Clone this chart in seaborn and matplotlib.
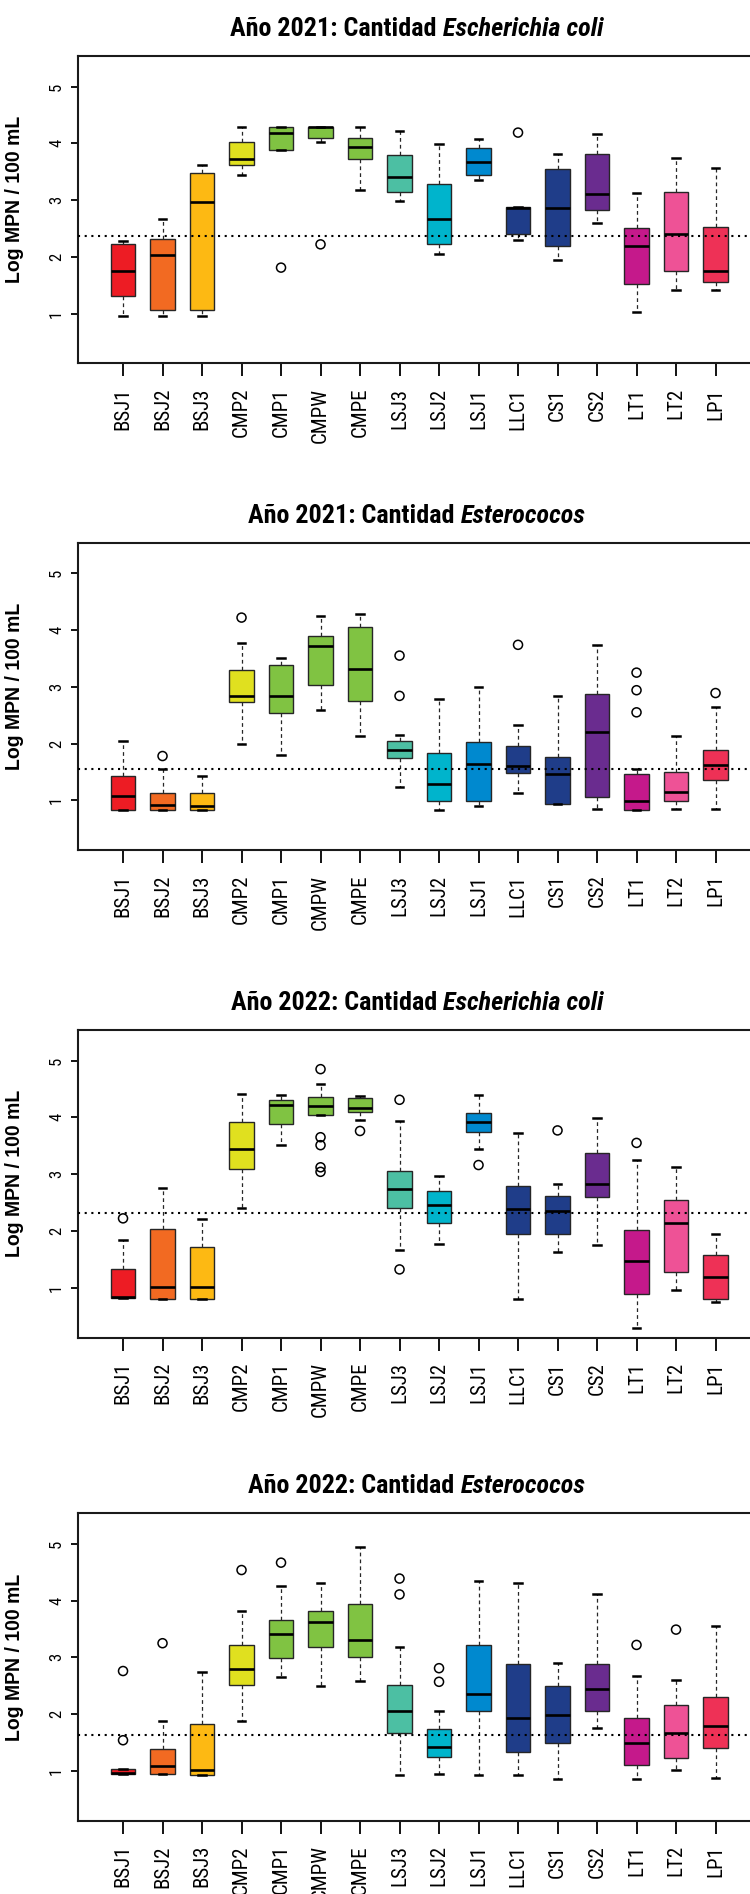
import numpy as np
import pandas as pd
import matplotlib
matplotlib.use("Agg")
import matplotlib.pyplot as plt
import seaborn as sns

# sampling stations, in plotting order
stations = ["BSJ1", "BSJ2", "BSJ3", "CMP2", "CMP1", "CMPW", "CMPE", "LSJ3",
            "LSJ2", "LSJ1", "LLC1", "CS1", "CS2", "LT1", "LT2", "LP1"]
box_colors = ["#ED1C24", "#F26A22", "#FDB913", "#E0E01F", "#80C342", "#80C342",
              "#80C342", "#4CBFA3", "#00B4CC", "#0089CF", "#1F3D89", "#1F3D89",
              "#6A2C8F", "#C5198B", "#EE5296", "#EE3156"]

# Año 2021 - Escherichia coli (whisker low, Q1, median, Q3, whisker high)
ec21_low = [0.95, 0.95, 0.95, 3.44, 3.89, 4.03, 3.18, 2.99, 2.05, 3.35, 2.30, 1.94, 2.59, 1.02, 1.41, 1.41]
ec21_q1 = [1.31, 1.07, 1.07, 3.62, 3.89, 4.09, 3.72, 3.14, 2.22, 3.44, 2.41, 2.19, 2.82, 1.52, 1.75, 1.55]
ec21_med = [1.75, 2.03, 2.96, 3.72, 4.19, 4.28, 3.94, 3.41, 2.66, 3.68, 2.86, 2.86, 3.11, 2.19, 2.41, 1.75]
ec21_q3 = [2.22, 2.32, 3.48, 4.02, 4.29, 4.29, 4.09, 3.79, 3.29, 3.92, 2.87, 3.54, 3.81, 2.50, 3.15, 2.53]
ec21_high = [2.28, 2.66, 3.62, 4.28, 4.29, 4.29, 4.28, 4.21, 3.99, 4.07, 2.87, 3.81, 4.16, 3.13, 3.74, 3.56]
ec21_out_st = ["CMP1", "CMPW", "LLC1"]
ec21_out_val = [1.81, 2.22, 4.19]

# Año 2021 - Esterococos
es21_low = [0.82, 0.82, 0.82, 2.00, 1.79, 2.59, 2.14, 1.24, 0.83, 0.90, 1.12, 0.94, 0.84, 0.83, 0.84, 0.84]
es21_q1 = [0.82, 0.82, 0.82, 2.73, 2.53, 3.04, 2.75, 1.74, 0.99, 0.99, 1.48, 0.94, 1.06, 0.83, 0.98, 1.36]
es21_med = [1.08, 0.91, 0.90, 2.84, 2.84, 3.72, 3.32, 1.89, 1.29, 1.64, 1.61, 1.46, 2.20, 0.99, 1.14, 1.62]
es21_q3 = [1.42, 1.12, 1.12, 3.29, 3.38, 3.89, 4.06, 2.04, 1.84, 2.02, 1.96, 1.76, 2.88, 1.46, 1.49, 1.88]
es21_high = [2.05, 1.55, 1.42, 3.77, 3.51, 4.25, 4.28, 2.15, 2.78, 3.00, 2.33, 2.83, 3.73, 1.55, 2.14, 2.64]
es21_out_st = ["BSJ2", "CMP2", "LSJ3", "LSJ3", "LLC1", "LT1", "LT1", "LT1", "LP1"]
es21_out_val = [1.78, 4.22, 3.55, 2.84, 3.74, 3.25, 2.94, 2.55, 2.89]

# Año 2022 - Escherichia coli
ec22_low = [0.82, 0.80, 0.80, 2.41, 3.51, 4.04, 3.95, 1.66, 1.76, 3.45, 0.79, 1.62, 1.75, 0.29, 0.96, 0.75]
ec22_q1 = [0.82, 0.80, 0.80, 3.09, 3.89, 4.04, 4.10, 2.40, 2.13, 3.74, 1.95, 1.94, 2.60, 0.89, 1.28, 0.80]
ec22_med = [0.84, 1.01, 1.01, 3.45, 4.21, 4.20, 4.16, 2.73, 2.45, 3.91, 2.39, 2.35, 2.83, 1.46, 2.13, 1.19]
ec22_q3 = [1.33, 2.04, 1.72, 3.91, 4.31, 4.36, 4.34, 3.05, 2.71, 4.07, 2.79, 2.62, 3.38, 2.02, 2.55, 1.57]
ec22_high = [1.84, 2.75, 2.21, 4.42, 4.39, 4.58, 4.38, 3.94, 2.96, 4.39, 3.72, 2.82, 3.99, 3.24, 3.12, 1.94]
ec22_out_st = ["BSJ1", "CMPW", "CMPW", "CMPW", "CMPW", "CMPW", "CMPE", "LSJ3", "LSJ3",
               "LSJ1", "CS1", "LT1"]
ec22_out_val = [2.22, 4.85, 3.65, 3.51, 3.12, 3.04, 3.76, 4.31, 1.32, 3.16, 3.77, 3.55]

# Año 2022 - Esterococos
es22_low = [0.94, 0.94, 0.93, 1.88, 2.65, 2.50, 2.59, 0.93, 0.95, 0.93, 0.93, 0.86, 1.75, 0.86, 1.02, 0.87]
es22_q1 = [0.94, 0.94, 0.93, 2.51, 2.99, 3.18, 3.01, 1.66, 1.24, 2.05, 1.34, 1.50, 2.05, 1.10, 1.22, 1.40]
es22_med = [0.96, 1.08, 1.02, 2.79, 3.42, 3.62, 3.30, 2.05, 1.42, 2.35, 1.93, 1.98, 2.45, 1.50, 1.66, 1.79]
es22_q3 = [1.04, 1.38, 1.82, 3.21, 3.66, 3.82, 3.94, 2.51, 1.73, 3.21, 2.88, 2.50, 2.89, 1.93, 2.16, 2.31]
es22_high = [1.04, 1.88, 2.74, 3.82, 4.25, 4.31, 4.95, 3.19, 2.06, 4.35, 4.32, 2.91, 4.12, 2.67, 2.61, 3.55]
es22_out_st = ["BSJ1", "BSJ1", "BSJ2", "CMP2", "CMP1", "LSJ3", "LSJ3", "LSJ2", "LSJ2", "LT1", "LT2"]
es22_out_val = [2.76, 1.54, 3.25, 4.54, 4.67, 4.39, 4.11, 2.81, 2.57, 3.22, 3.49]

# dotted reference line of each panel
ref_lines = [2.36, 1.56, 2.32, 1.64]
panel_titles = [("Año 2021: Cantidad", "Escherichia coli"),
                ("Año 2021: Cantidad", "Esterococos"),
                ("Año 2022: Cantidad", "Escherichia coli"),
                ("Año 2022: Cantidad", "Esterococos")]

COND = ["Roboto Condensed", "DejaVu Sans"]
BOLD_LAB = ["Liberation Sans", "DejaVu Sans"]

W, H = 750, 1894
fig = plt.figure(figsize=(W / 100, H / 100), dpi=100)
fig.patch.set_facecolor("white")

ax_left = 78
unit_px = 39.5
xlo, xhi = -1.14, 16.14
ax_w = (xhi - xlo) * unit_px
ax_h = 307.5
panel_tops = [56, 542.7, 1030, 1513.3]


def draw_panel(ax, low, q1, med, q3, high, out_st, out_val, ref):
    # five values per station -> quartiles exact, whiskers at min/max
    box_df = pd.DataFrame({
        "station": np.repeat(stations, 5),
        "value": np.column_stack([low, q1, med, q3, high]).ravel(),
    })
    sns.boxplot(data=box_df, x="station", y="value", hue="station",
                order=stations, hue_order=stations, palette=box_colors,
                saturation=1, width=0.62, whis=(0, 100), showfliers=False,
                linecolor="#262626", linewidth=1.0, legend=False, ax=ax,
                medianprops={"linewidth": 1.9, "color": "black"},
                whiskerprops={"linestyle": (0, (3, 2.5)), "linewidth": 0.9},
                capprops={"linewidth": 1.8, "color": "black"},
                capwidths=0.19)

    out_df = pd.DataFrame({"station": out_st, "value": out_val})
    sns.stripplot(data=out_df, x="station", y="value", order=stations,
                  jitter=False, color="black", size=6.5, linewidth=1.1,
                  edgecolor="black", ax=ax, zorder=4)
    for coll in ax.collections:
        coll.set_facecolor("none")
        coll.set_edgecolor("black")

    ax.axhline(ref, color="black", linestyle=(0, (1, 2.2)), linewidth=1.5, zorder=5)

    ax.set_xlim(xlo, xhi)
    ax.set_ylim(0.12, 5.54)
    ax.set_yticks([1, 2, 3, 4, 5], ["1", "2", "3", "4", "5"], rotation=90,
                  va="center", fontsize=12, family=COND)
    ax.set_xticks(range(len(stations)), stations, rotation=90,
                  fontsize=15, family=COND)
    ax.set_xlabel("")
    ax.set_ylabel("Log MPN / 100 mL", fontsize=14, fontweight="bold", family=BOLD_LAB)
    ax.yaxis.set_label_coords(-0.079, 0.533)
    ax.tick_params(axis="x", length=9, width=1.3, pad=8.5, colors="black")
    ax.tick_params(axis="y", length=5, width=1.3, pad=5, colors="black")
    for sp in ax.spines.values():
        sp.set_linewidth(1.5)
        sp.set_color("#1a1a1a")
    ax.grid(False)


panel_data = [
    (ec21_low, ec21_q1, ec21_med, ec21_q3, ec21_high, ec21_out_st, ec21_out_val),
    (es21_low, es21_q1, es21_med, es21_q3, es21_high, es21_out_st, es21_out_val),
    (ec22_low, ec22_q1, ec22_med, ec22_q3, ec22_high, ec22_out_st, ec22_out_val),
    (es22_low, es22_q1, es22_med, es22_q3, es22_high, es22_out_st, es22_out_val),
]

renderer = fig.canvas.get_renderer()
title_size = None
for i, top in enumerate(panel_tops):
    ax = fig.add_axes([ax_left / W, (H - top - ax_h) / H, ax_w / W, ax_h / H])
    draw_panel(ax, *panel_data[i], ref_lines[i])

    # y label length in the reference is about 168 px
    lab = ax.yaxis.label
    lab_len = lab.get_window_extent(renderer).height
    lab.set_fontsize(14 * 168 / lab_len)

    # title: bold part + bold italic organism, centred over the plot box
    prefix, organism = panel_titles[i]
    y = (H - (top - 20)) / H
    t1 = fig.text(0, y, prefix, fontsize=20, fontweight="bold", family=COND,
                  ha="left", va="baseline")
    t2 = fig.text(0, y, organism, fontsize=20, fontweight="bold", style="italic",
                  family=COND, ha="left", va="baseline")
    gap = 6
    if title_size is None:
        # the first (longest) title is about 372 px wide in the reference
        full = (t1.get_window_extent(renderer).width + gap
                + t2.get_window_extent(renderer).width)
        title_size = 20 * 372 / full
    t1.set_fontsize(title_size)
    t2.set_fontsize(title_size)
    w1 = t1.get_window_extent(renderer).width
    w2 = t2.get_window_extent(renderer).width
    x0 = 417 - (w1 + gap + w2) / 2
    t1.set_x(x0 / W)
    t2.set_x((x0 + w1 + gap) / W)

fig.savefig("out.png", dpi=100, facecolor="white")
